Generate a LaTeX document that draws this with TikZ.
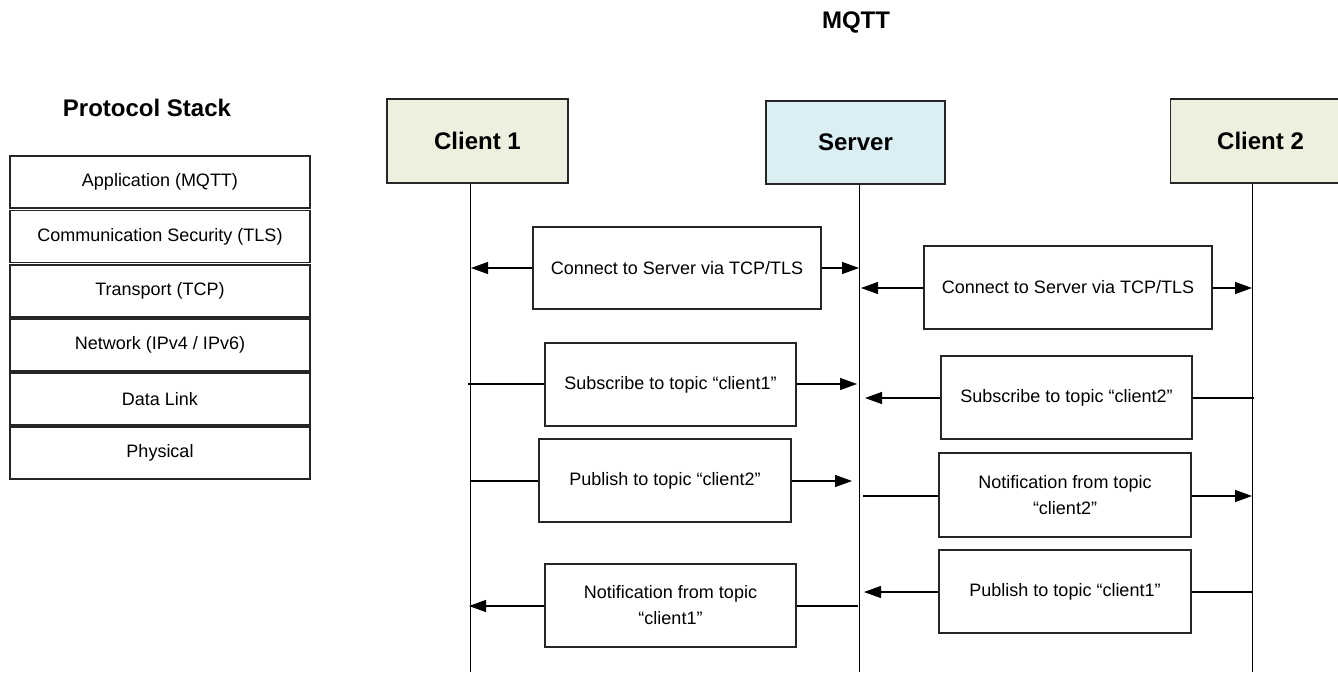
\documentclass[tikz,border=0pt]{standalone}
\usepackage{fontspec}
\setmainfont{Liberation Sans}
\usetikzlibrary{arrows.meta}
\definecolor{cgreen}{HTML}{EBF1DE}
\definecolor{sblue}{HTML}{DBEEF3}
\definecolor{edge}{HTML}{262626}
\tikzset{
  hdr/.style={draw=edge, line width=1.1pt, minimum width=180pt, minimum height=83pt, inner sep=0pt, font=\fontsize{24}{28}\selectfont\bfseries},
  msg/.style={draw=edge, line width=1.1pt, inner sep=0pt, align=center, font=\fontsize{18}{26}\selectfont},
  layer/.style={draw=edge, line width=1.1pt, minimum width=300pt, minimum height=52pt, inner sep=0pt, font=\fontsize{18}{22}\selectfont},
  life/.style={line width=1.1pt, draw=black},
  conn/.style={line width=1.1pt, draw=black},
  tip/.style={conn, -{Triangle[length=17pt, width=12pt]}},
  ttl/.style={font=\fontsize{24}{28}\selectfont\bfseries}
}
\begin{document}
\begin{tikzpicture}[x=1pt, y=-1pt]
\useasboundingbox (0,0) rectangle (1338,672);
% titles
\node[ttl] (mqtt) at (856,22) {MQTT};
\node[ttl] (pst) at (147,108) {Protocol Stack};
% protocol stack
\node[layer] (l1) at (160,182) {Application (MQTT)};
\node[layer] (l2) at (160,236.5) {Communication Security (TLS)};
\node[layer] (l3) at (160,291) {Transport (TCP)};
\node[layer] (l4) at (160,345) {Network (IPv4 / IPv6)};
\node[layer] (l5) at (160,399) {Data Link};
\node[layer] (l6) at (160,453) {Physical};
% headers
\node[hdr, fill=cgreen, minimum width=181pt, minimum height=84pt] (c1) at (477.5,141) {Client 1};
\node[hdr, fill=sblue, minimum width=179pt] (srv) at (855.5,142.5) {Server};
\node[hdr, fill=cgreen, minimum width=180pt, minimum height=84pt, anchor=west] (c2) at (1170,141) {Client 2};
% lifelines
\coordinate (c1end) at (470.5,672);
\coordinate (srvend) at (859.5,672);
\coordinate (c2end) at (1252.5,672);
\draw[life] (c1.south -| c1end) -- (c1end);
\draw[life] (srv.south -| srvend) -- (srvend);
\draw[life] (c2.south -| c2end) -- (c2end);
% message boxes
\node[msg, minimum width=288pt, minimum height=82pt] (m1) at (677,268) {Connect to Server via TCP/TLS};
\node[msg, minimum width=288pt, minimum height=83pt] (m2) at (1068,287.5) {Connect to Server via TCP/TLS};
\node[msg, minimum width=251pt, minimum height=83pt] (m3) at (670.5,384.5) {Subscribe to topic “client1”};
\node[msg, minimum width=251pt, minimum height=83pt] (m4) at (1066.5,397.5) {Subscribe to topic “client2”};
\node[msg, minimum width=252pt, minimum height=83pt] (m5) at (665,480.5) {Publish to topic “client2”};
\node[msg, minimum width=252pt, minimum height=84pt] (m6) at (1065,495) {Notification from topic\\“client2”};
\node[msg, minimum width=251pt, minimum height=83pt] (m7) at (670.5,605.5) {Notification from topic\\“client1”};
\node[msg, minimum width=252pt, minimum height=83pt] (m8) at (1065,591.5) {Publish to topic “client1”};
% lifeline points
\coordinate (p1l) at (471,268);  \coordinate (p1r) at (859,268);
\coordinate (p2l) at (861,288);  \coordinate (p2r) at (1252,288);
\coordinate (p3l) at (468,384);  \coordinate (p3r) at (857,384);
\coordinate (p4l) at (865,398);  \coordinate (p4r) at (1254,398);
\coordinate (p5l) at (470,481);  \coordinate (p5r) at (852,481);
\coordinate (p6l) at (863,496);  \coordinate (p6r) at (1252,496);
\coordinate (p7l) at (469,606);  \coordinate (p7r) at (858,606);
\coordinate (p8l) at (864,592);  \coordinate (p8r) at (1253,592);
% connectors
\draw[tip] (m1.west |- p1l) -- (p1l);
\draw[tip] (m1.east |- p1r) -- (p1r);
\draw[tip] (m2.west |- p2l) -- (p2l);
\draw[tip] (m2.east |- p2r) -- (p2r);
\draw[conn] (m3.west |- p3l) -- (p3l);
\draw[tip] (m3.east |- p3r) -- (p3r);
\draw[tip] (m4.west |- p4l) -- (p4l);
\draw[conn] (m4.east |- p4r) -- (p4r);
\draw[conn] (m5.west |- p5l) -- (p5l);
\draw[tip] (m5.east |- p5r) -- (p5r);
\draw[conn] (m6.west |- p6l) -- (p6l);
\draw[tip] (m6.east |- p6r) -- (p6r);
\draw[tip] (m7.west |- p7l) -- (p7l);
\draw[conn] (m7.east |- p7r) -- (p7r);
\draw[tip] (m8.west |- p8l) -- (p8l);
\draw[conn] (m8.east |- p8r) -- (p8r);
\end{tikzpicture}
\end{document}
